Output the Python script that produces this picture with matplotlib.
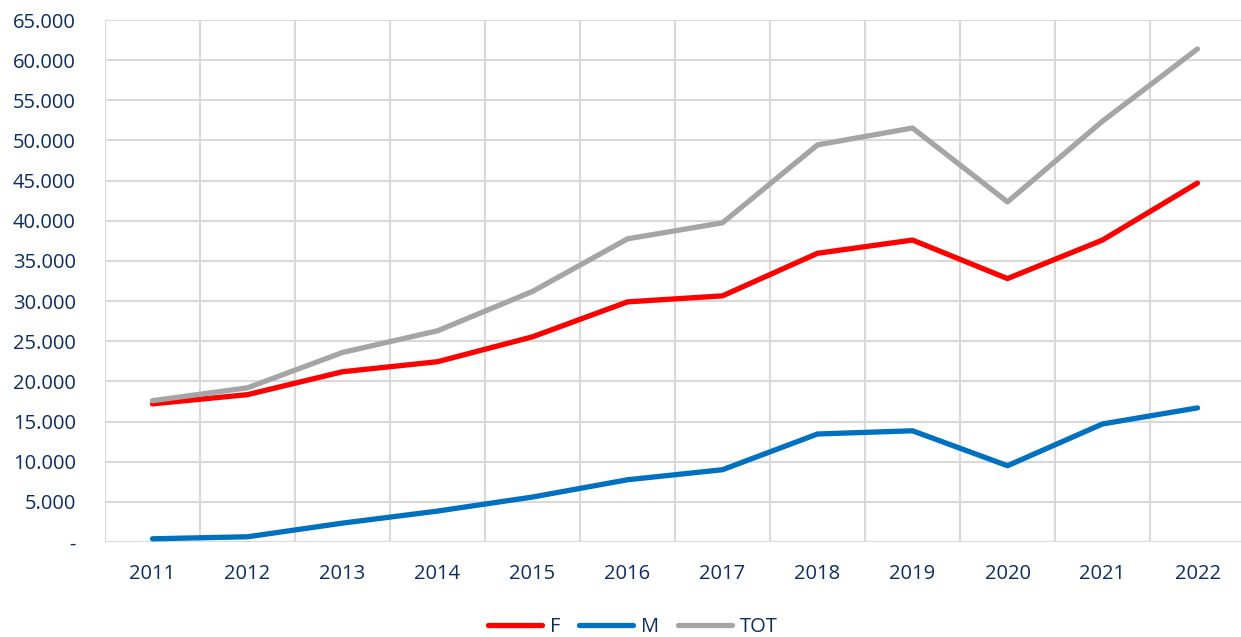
import matplotlib.pyplot as plt
import numpy as np
from matplotlib.ticker import FuncFormatter, MultipleLocator

years = ['2011', '2012', '2013', '2014', '2015', '2016',
         '2017', '2018', '2019', '2020', '2021', '2022']
f_vals = [17200, 18350, 21200, 22450, 25550, 29900,
          30650, 35950, 37600, 32800, 37600, 44700]
m_vals = [400, 650, 2350, 3850, 5600, 7750,
          9000, 13450, 13850, 9500, 14700, 16700]
tot_vals = [17600, 19200, 23600, 26300, 31200, 37750,
            39750, 49450, 51550, 42350, 52400, 61400]

txt = '#0E2B63'
plt.rcParams['font.family'] = ['Open Sans', 'DejaVu Sans']

fig = plt.figure(figsize=(12.41, 6.37), dpi=100)
ax = fig.add_axes([105 / 1241, 95 / 637, 1140 / 1241, 522 / 637])

x = np.arange(len(years))
ax.plot(x, f_vals, color='#FF0000', lw=3.8, label='F', solid_capstyle='round', zorder=3)
ax.plot(x, m_vals, color='#0070C0', lw=3.8, label='M', solid_capstyle='round', zorder=3)
ax.plot(x, tot_vals, color='#A5A5A5', lw=3.8, label='TOT', solid_capstyle='round', zorder=3)

ax.set_xlim(-0.5, len(years) - 0.5)
ax.set_ylim(0, 65000)
ax.yaxis.set_major_locator(MultipleLocator(5000))
ax.yaxis.set_major_formatter(FuncFormatter(
    lambda v, p: '-' if v == 0 else f'{int(v):,}'.replace(',', '.')))
ax.set_xticks(x)
ax.set_xticklabels(years)
ax.set_xticks(np.arange(-0.5, len(years), 1), minor=True)

ax.grid(axis='y', which='major', color='#D9D9D9', lw=1.5)
ax.grid(axis='x', which='minor', color='#D9D9D9', lw=1.5)
ax.set_axisbelow(True)
for s in ax.spines.values():
    s.set_visible(False)
ax.tick_params(axis='both', which='both', length=0, labelsize=14.5, colors=txt)
ax.tick_params(axis='y', pad=21)
ax.tick_params(axis='x', pad=16)

leg = fig.legend(loc='center', bbox_to_anchor=(0.51, 1 - 627 / 637), ncol=3,
                 frameon=False, fontsize=14.5, handlelength=2.7,
                 columnspacing=0.9, handletextpad=0.4)
for t in leg.get_texts():
    t.set_color(txt)

fig.savefig('out.png', dpi=100)
